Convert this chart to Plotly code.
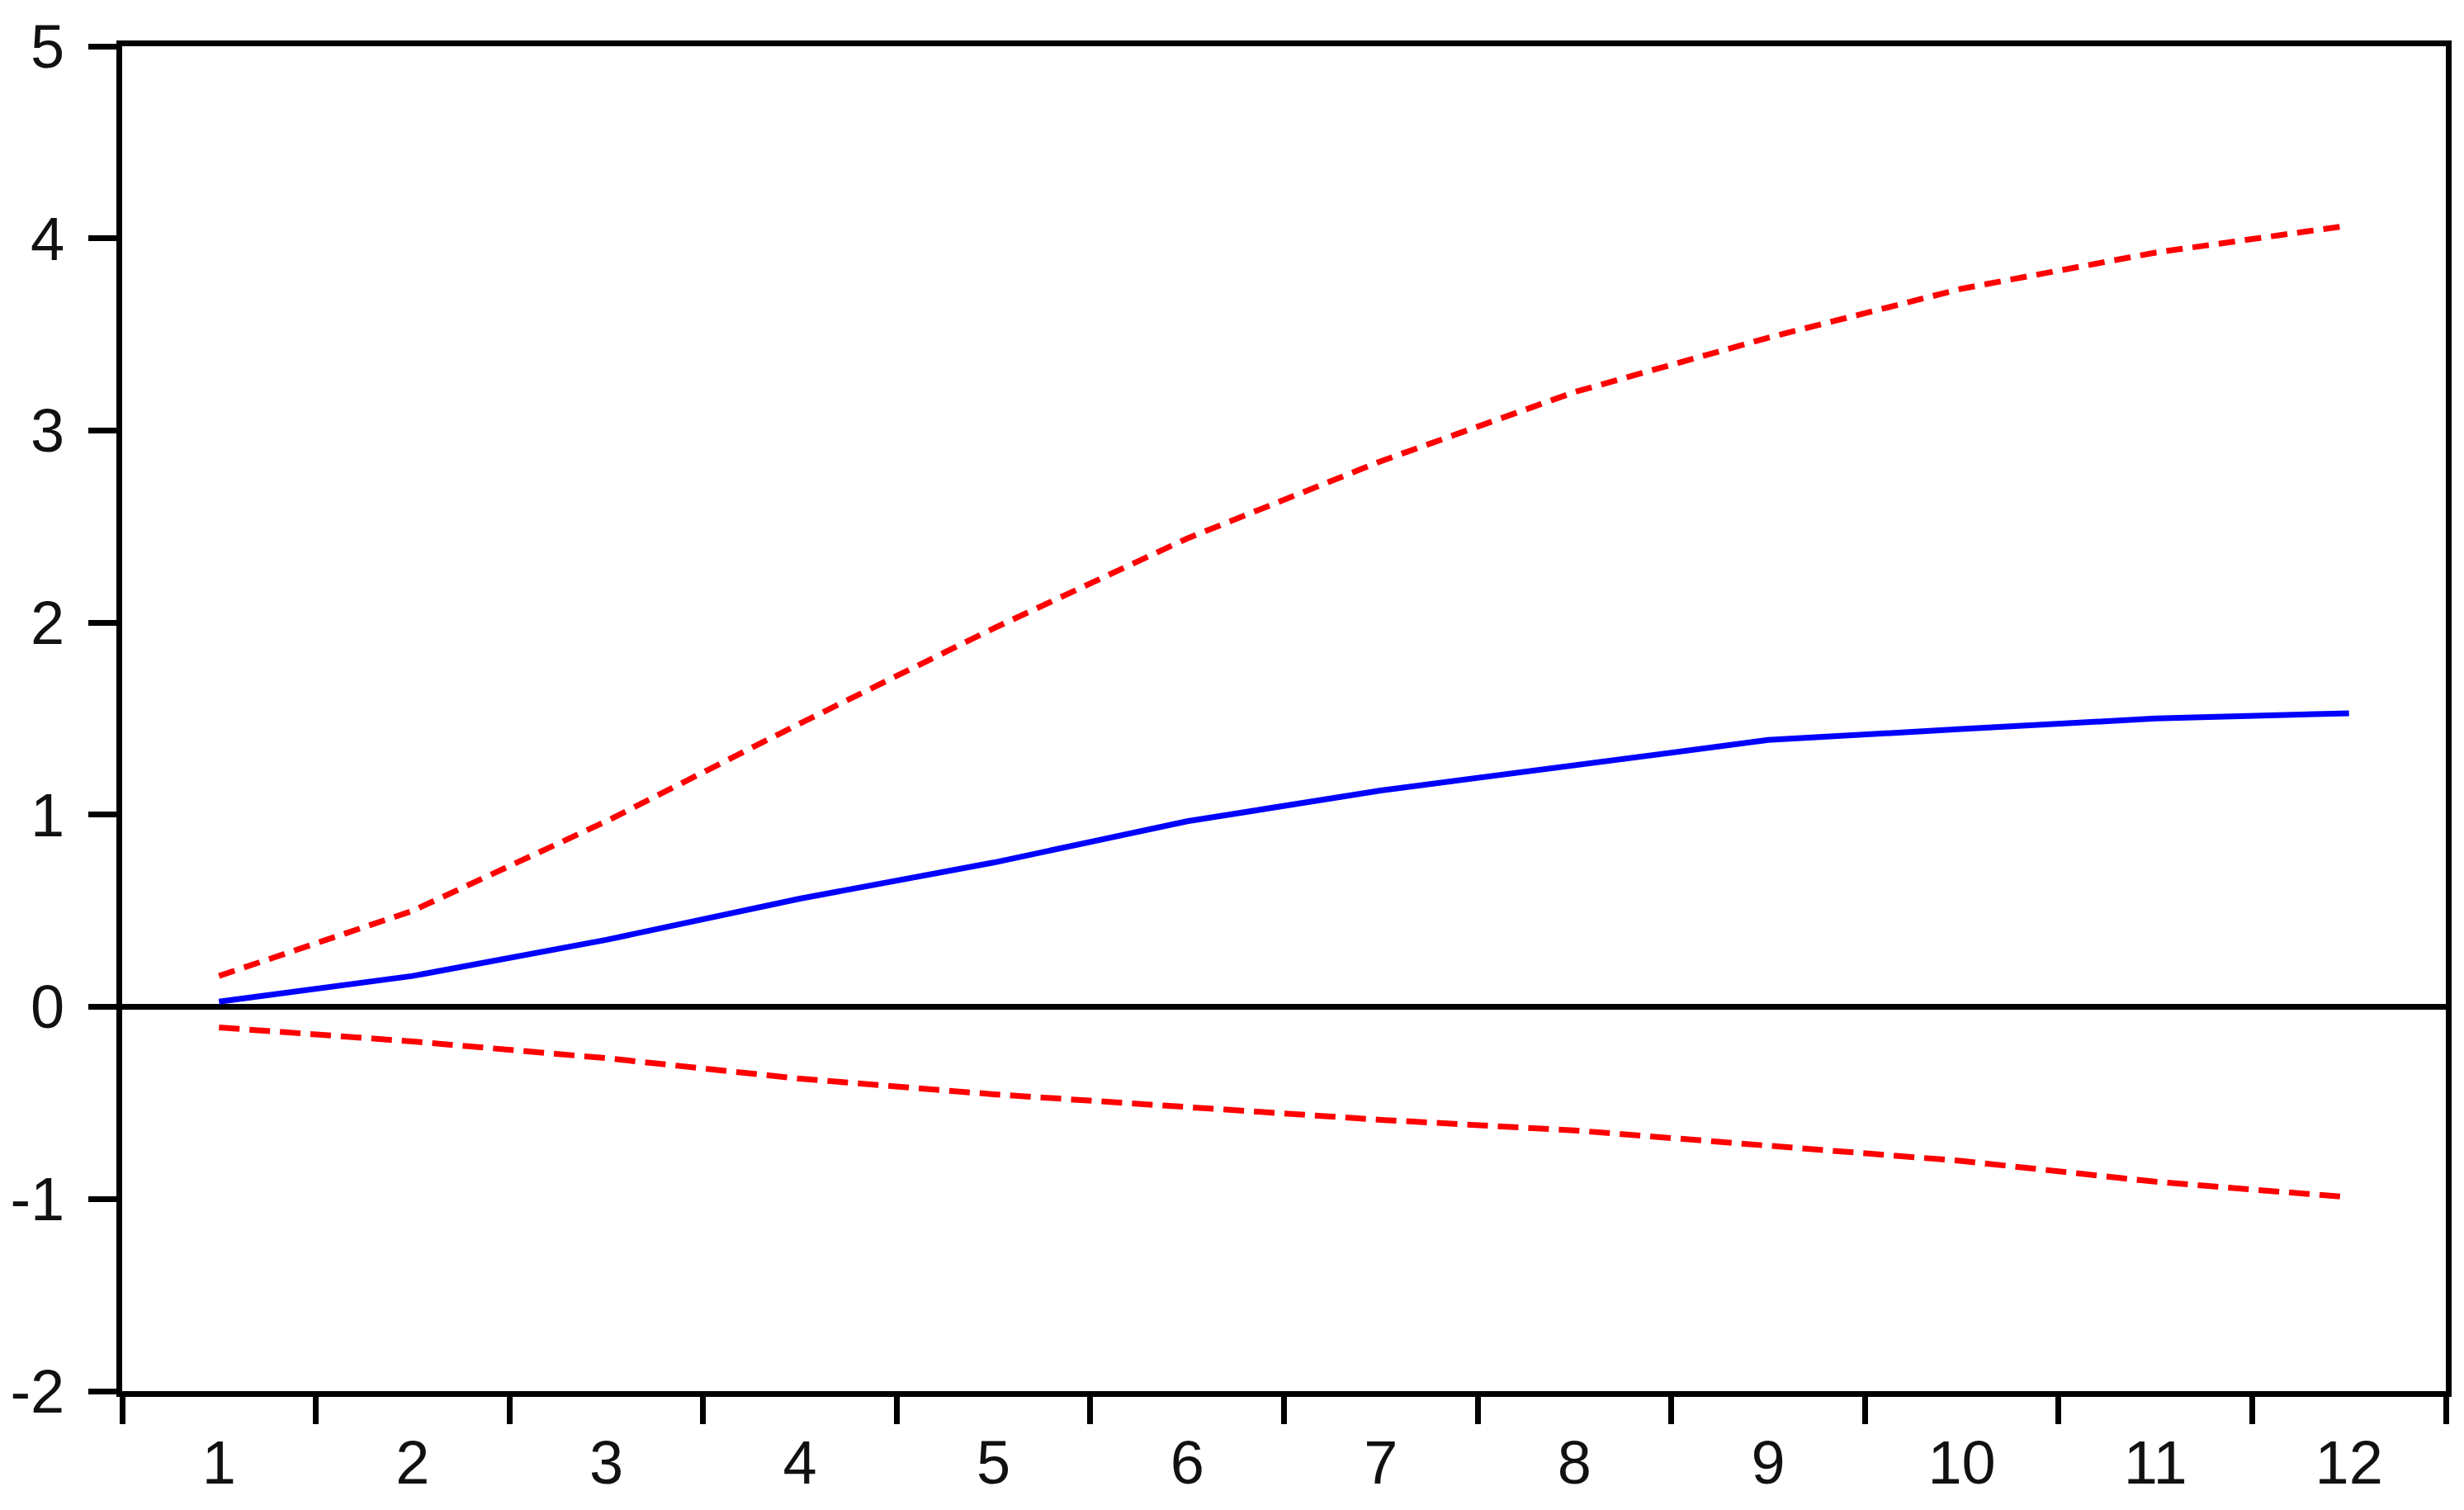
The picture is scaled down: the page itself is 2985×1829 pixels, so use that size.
import plotly.graph_objects as go

periods = ["1", "2", "3", "4", "5", "6", "7", "8", "9", "10", "11", "12"]
response = [0.027, 0.161, 0.349, 0.563, 0.751, 0.966, 1.126, 1.260, 1.389, 1.446, 1.501, 1.528]
upper_band = [0.161, 0.500, 0.966, 1.475, 1.970, 2.438, 2.840, 3.200, 3.483, 3.738, 3.926, 4.067]
lower_band = [-0.107, -0.180, -0.267, -0.374, -0.455, -0.520, -0.588, -0.643, -0.722, -0.802, -0.910, -0.991]
y_ticks = [-2, -1, 0, 1, 2, 3, 4, 5]
y_tick_labels = ["-2", "-1", "0", "1", "2", "3", "4", "5"]

fig = go.Figure()
fig.add_trace(go.Scatter(x=periods, y=upper_band, mode="lines",
                         line=dict(color="#FF0000", width=7, dash="20px,12px"),
                         showlegend=False, hoverinfo="skip"))
fig.add_trace(go.Scatter(x=periods, y=lower_band, mode="lines",
                         line=dict(color="#FF0000", width=7, dash="25px,12px"),
                         showlegend=False, hoverinfo="skip"))
fig.add_trace(go.Scatter(x=periods, y=response, mode="lines",
                         line=dict(color="#0000FF", width=7),
                         showlegend=False, hoverinfo="skip"))

font = dict(family="Liberation Sans, Arial, sans-serif", size=74, color="#111111")

fig.update_layout(
    width=2985, height=1829,
    margin=dict(l=140, r=30, t=48, b=152, autoexpand=False),
    paper_bgcolor="white", plot_bgcolor="white",
    font=font,
    xaxis=dict(
        type="category", tickson="boundaries", range=[-0.5, 11.5],
        showline=True, linecolor="black", linewidth=7, mirror=True,
        ticks="outside", ticklen=33, tickwidth=7, tickcolor="black",
        showgrid=False, zeroline=False, tickfont=font,
        ticklabelstandoff=16, automargin=False,
    ),
    yaxis=dict(
        range=[-2, 5], tickvals=y_ticks, ticktext=y_tick_labels,
        showline=True, linecolor="black", linewidth=7, mirror=True,
        ticks="outside", ticklen=34, tickwidth=7, tickcolor="black",
        showgrid=False, zeroline=True, zerolinecolor="black", zerolinewidth=7,
        tickfont=font, ticklabelstandoff=14, automargin=False,
    ),
)

fig.write_html("out.html")
